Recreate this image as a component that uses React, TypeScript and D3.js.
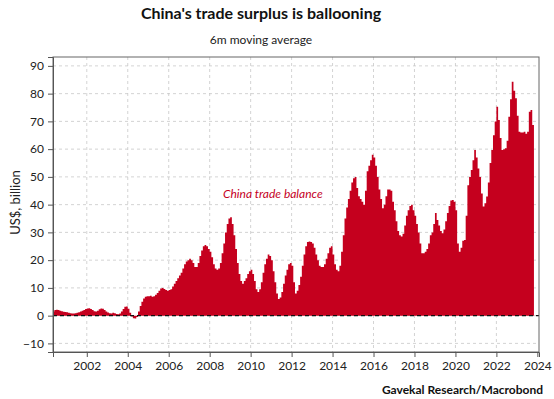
import React, { useRef, useEffect } from 'react';
import * as d3 from 'd3';

const WIDTH = 554;
const HEIGHT = 399;
const FONT = 'Lato, "Open Sans", sans-serif';
const RED = '#c5001e';

// first observation: May 2000, monthly, 6m moving average (US$ bn)
const FIRST_MONTH = 2000 + 4 / 12;
const tradeBalance = [
  1.5, 2.0, 2.1, 2.0, 1.8, 1.6, 1.4, 1.3, // 2000
  1.2, 1.0, 0.9, 0.8, 0.8, 0.9, 1.0, 1.2, 1.5, 1.8, 2.0, 2.4, // 2001
  2.6, 2.7, 2.4, 2.0, 1.6, 1.5, 1.8, 2.3, 2.6, 2.5, 2.0, 1.5, // 2002
  1.1, 0.9, 0.8, 1.0, 0.9, 0.6, 0.5, 0.8, 1.5, 2.4, 3.2, 3.3, // 2003
  2.5, 1.0, -0.3, -0.9, -1.0, -0.5, 1.5, 3.5, 5.0, 6.2, 6.8, 7.0, // 2004
  7.0, 7.2, 6.8, 7.0, 7.5, 8.2, 9.0, 9.8, 10.0, 9.6, 9.2, 9.0, // 2005
  9.2, 9.5, 10.5, 11.5, 12.5, 13.5, 14.5, 15.5, 17.0, 18.5, 19.5, 20.0, // 2006
  20.5, 20.0, 19.0, 17.5, 17.5, 19.0, 21.5, 23.5, 25.0, 25.5, 25.0, 24.0, // 2007
  23.0, 21.0, 18.5, 17.0, 16.5, 17.0, 19.0, 22.5, 26.0, 30.0, 33.0, 35.0, // 2008
  35.5, 33.0, 29.0, 24.0, 19.0, 15.0, 12.5, 11.5, 12.5, 13.5, 15.0, 16.0, // 2009
  16.5, 15.0, 12.5, 9.5, 8.5, 9.5, 12.0, 15.5, 18.5, 20.5, 22.0, 21.5, // 2010
  20.0, 16.0, 12.0, 8.0, 6.0, 6.5, 8.5, 11.5, 14.5, 16.5, 18.5, 19.0, // 2011
  18.0, 12.0, 8.0, 9.0, 11.0, 14.0, 18.0, 22.0, 25.0, 26.5, 26.7, 26.5, // 2012
  26.0, 24.5, 22.0, 20.0, 18.0, 17.5, 17.5, 18.5, 20.5, 22.5, 24.5, 25.0, // 2013
  22.0, 18.5, 16.5, 16.0, 18.0, 23.0, 29.0, 35.0, 39.0, 42.0, 45.0, 48.0, // 2014
  49.5, 50.0, 46.0, 43.0, 42.0, 41.0, 40.0, 45.0, 52.0, 54.0, 56.0, 58.0, // 2015
  57.0, 54.0, 50.0, 45.5, 42.0, 38.7, 40.0, 43.0, 45.5, 45.5, 45.0, 41.0, // 2016
  38.0, 34.0, 30.5, 29.0, 28.5, 29.5, 32.5, 36.0, 38.0, 39.5, 40.0, 38.0, // 2017
  36.0, 33.0, 30.0, 26.0, 22.5, 22.5, 23.0, 24.0, 26.0, 29.0, 30.0, 33.0, // 2018
  37.0, 34.5, 32.5, 30.5, 29.7, 31.0, 34.0, 37.0, 39.5, 41.5, 41.7, 41.0, // 2019
  38.0, 26.0, 23.0, 24.5, 27.0, 27.3, 36.0, 47.0, 50.0, 52.5, 56.0, 59.7, // 2020
  57.0, 53.0, 50.0, 44.0, 39.3, 40.5, 42.9, 48.0, 55.0, 59.7, 65.0, 70.0, // 2021
  75.3, 70.5, 64.0, 59.7, 60.0, 60.3, 63.0, 71.7, 78.0, 84.3, 81.0, 78.3, // 2022
  72.0, 66.3, 66.0, 66.0, 66.3, 65.5, 66.3, 73.5, 74.1, 68.7, // 2023
];

const xTicks = [2002, 2004, 2006, 2008, 2010, 2012, 2014, 2016, 2018, 2020, 2022, 2024];
const yTicks = [-10, 0, 10, 20, 30, 40, 50, 60, 70, 80, 90];

const App: React.FC = () => {
  const svgRef = useRef<SVGSVGElement>(null);

  useEffect(() => {
    if (!svgRef.current) return;
    const svg = d3.select(svgRef.current);
    svg.selectAll('*').remove();

    const left = 53;
    const right = 539;
    const top = 57;
    const bottom = 352;

    const x = d3.scaleLinear().domain([2000.35, 2024.08]).range([left, right]);
    const y = d3.scaleLinear().domain([-13.1, 93.2]).range([bottom, top]);

    const points = tradeBalance.map((v, i) => ({ t: FIRST_MONTH + i / 12, v }));
    // close the last month so step curve covers it
    points.push({ t: FIRST_MONTH + tradeBalance.length / 12, v: tradeBalance[tradeBalance.length - 1] });

    svg.append('defs')
      .append('clipPath')
      .attr('id', 'plot-clip')
      .append('rect')
      .attr('x', left)
      .attr('y', top)
      .attr('width', right - left)
      .attr('height', bottom - top);

    // grid
    const grid = svg.append('g').attr('stroke', '#c8c8c8').attr('stroke-width', 0.8).attr('stroke-dasharray', '3,3');
    yTicks.forEach((v) => {
      grid.append('line').attr('x1', left).attr('x2', right).attr('y1', y(v)).attr('y2', y(v));
    });
    xTicks.filter((t) => x(t) < right - 3).forEach((t) => {
      grid.append('line').attr('x1', x(t)).attr('x2', x(t)).attr('y1', top).attr('y2', bottom);
    });

    // area
    const area = d3
      .area<{ t: number; v: number }>()
      .x((d) => x(d.t))
      .y0(y(0))
      .y1((d) => y(d.v))
      .curve(d3.curveStepAfter);
    svg.append('path')
      .attr('clip-path', 'url(#plot-clip)')
      .attr('d', area(points) ?? '')
      .attr('fill', RED);

    // zero line
    svg.append('line')
      .attr('x1', left)
      .attr('x2', right)
      .attr('y1', y(0))
      .attr('y2', y(0))
      .attr('stroke', '#111')
      .attr('stroke-width', 1.3)
      .attr('stroke-dasharray', '4,3');

    // frame
    svg.append('rect')
      .attr('x', left)
      .attr('y', top)
      .attr('width', right - left)
      .attr('height', bottom - top)
      .attr('fill', 'none')
      .attr('stroke', '#666')
      .attr('stroke-width', 1);

    // axes
    const yAxis = svg.append('g')
      .attr('transform', `translate(${left},0)`)
      .call(d3.axisLeft(y).tickValues(yTicks).tickSize(5).tickPadding(4));
    const xAxis = svg.append('g')
      .attr('transform', `translate(0,${bottom})`)
      .call(d3.axisBottom(x).tickValues(xTicks).tickFormat(d3.format('d')).tickSize(5).tickPadding(4));
    [yAxis, xAxis].forEach((ax) => {
      ax.select('.domain').attr('stroke', '#555');
      ax.selectAll('.tick line').attr('stroke', '#555');
      ax.selectAll('.tick text')
        .attr('fill', '#222')
        .attr('font-size', '12px')
        .attr('font-family', FONT);
    });

    // titles
    svg.append('text')
      .attr('x', 261)
      .attr('y', 19)
      .attr('text-anchor', 'middle')
      .attr('font-family', FONT)
      .attr('font-weight', 'bold')
      .attr('font-size', '16px')
      .attr('fill', '#111')
      .text("China's trade surplus is ballooning");

    svg.append('text')
      .attr('x', 261)
      .attr('y', 44)
      .attr('text-anchor', 'middle')
      .attr('font-family', FONT)
      .attr('font-size', '12px')
      .attr('fill', '#222')
      .text('6m moving average');

    svg.append('text')
      .attr('transform', `translate(20,${(top + bottom) / 2 - 2}) rotate(-90)`)
      .attr('text-anchor', 'middle')
      .attr('font-family', FONT)
      .attr('font-size', '13px')
      .attr('fill', '#222')
      .text('US$, billion');

    svg.append('text')
      .attr('x', 223)
      .attr('y', 198)
      .attr('font-family', FONT)
      .attr('font-style', 'italic')
      .attr('font-size', '12px')
      .attr('fill', RED)
      .text('China trade balance');

    svg.append('text')
      .attr('x', 543)
      .attr('y', 394)
      .attr('text-anchor', 'end')
      .attr('font-family', FONT)
      .attr('font-weight', 'bold')
      .attr('font-size', '12px')
      .attr('fill', '#111')
      .text('Gavekal Research/Macrobond');
  }, []);

  return (
    <svg
      ref={svgRef}
      width={WIDTH}
      height={HEIGHT}
      viewBox={`0 0 ${WIDTH} ${HEIGHT}`}
      style={{ position: 'absolute', left: 0, top: 0, background: '#fff' }}
    />
  );
};

export default App;
